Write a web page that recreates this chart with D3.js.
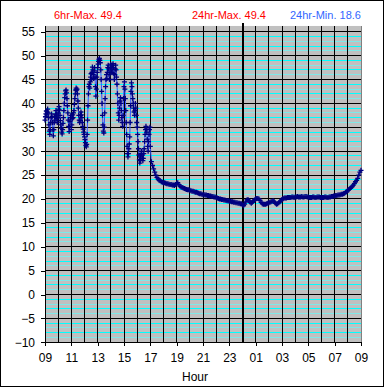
<!DOCTYPE html>
<html><head><meta charset="utf-8">
<script src="https://cdn.jsdelivr.net/npm/d3@7"></script>
<style>body{margin:0;background:#fff}svg{display:block}</style>
</head><body>
<script>
// Readings every 2 minutes from 09:00 to 16:58 (one row per hour)
const noisyTemps = [
36.5,37.2,37.8,38.4,37.6,38.2,38.8,38.0,37.0,35.5,34.2,33.5,34.5,36.0,37.0,37.8,37.2,36.0,34.5,33.2,34.5,36.0,37.2,36.5,37.6,38.5,37.8,36.8,36.0,37.0,
38.0,38.8,39.3,38.6,37.5,36.4,35.5,34.8,34.0,33.6,34.5,35.8,37.0,38.5,40.0,41.2,42.0,42.6,42.8,42.2,41.0,39.5,38.0,36.5,35.2,34.1,35.0,36.2,37.0,37.5,
34.5,35.5,36.8,37.6,37.0,38.0,38.5,39.8,41.0,42.0,42.8,43.2,42.8,43.0,42.0,40.5,39.0,37.5,36.5,36.0,36.4,37.5,38.2,37.6,37.0,36.0,35.2,34.6,34.0,33.5,
33.0,32.4,31.8,31.2,30.9,31.4,33.5,36.5,39.5,42.0,43.5,44.0,43.2,44.5,45.5,46.2,45.0,46.5,47.6,47.0,46.0,45.2,46.8,47.5,45.5,43.5,41.5,43.0,45.5,46.5,
47.5,48.2,48.8,49.2,49.4,49.0,48.5,47.0,45.0,42.5,40.0,37.5,35.5,34.2,33.8,35.0,38.0,41.0,43.5,45.0,46.0,45.2,46.5,47.5,48.0,47.2,46.0,45.0,46.5,47.5,
48.2,47.6,46.5,47.0,48.0,48.3,47.5,46.2,45.0,46.0,47.2,48.0,47.0,45.5,44.0,42.0,40.0,38.0,36.5,37.5,39.0,40.5,41.2,40.0,38.5,37.0,36.0,35.2,37.5,41.0,
43.5,44.5,43.0,41.0,38.5,36.0,33.5,31.0,29.5,28.8,29.5,30.5,31.5,33.0,36.0,39.5,42.5,44.3,43.5,42.0,41.0,40.0,39.0,38.2,37.5,38.5,40.0,39.0,37.5,36.0,
35.0,33.5,32.0,30.5,29.2,28.2,27.5,28.0,28.8,29.5,30.0,29.2,28.5,28.0,28.5,29.5,30.5,32.0,33.5,34.5,35.2,34.8,34.0,32.5,31.0,30.0,32.0,33.5,34.5,35.0
];
const noisyStep = 2;
// Readings every 5 minutes from 17:00 to 09:00 (one row per hour)
const smoothTemps = [
31.0,27.8,27.0,26.3,25.6,25.0,24.5,24.2,23.9,23.8,23.6,23.5,
23.4,23.4,23.3,23.2,23.2,23.1,23.0,23.0,22.9,22.9,22.8,23.0,
23.3,23.4,23.0,22.7,22.5,22.4,22.3,22.2,22.1,22.0,21.9,21.9,
21.8,21.7,21.6,21.6,21.5,21.4,21.4,21.3,21.2,21.1,21.1,21.0,
20.9,20.9,20.8,20.8,20.7,20.7,20.6,20.6,20.5,20.5,20.4,20.4,
20.3,20.2,20.1,20.0,20.0,19.9,19.9,19.8,19.8,19.7,19.6,19.6,
19.5,19.5,19.4,19.4,19.3,19.3,19.2,19.2,19.1,19.1,19.0,19.0,
18.8,18.6,18.9,19.4,19.8,19.9,19.6,19.3,19.1,19.3,19.6,19.8,
20.0,20.1,20.1,20.0,19.7,19.3,19.0,18.9,18.9,18.9,19.0,19.1,
19.2,19.3,19.4,19.5,19.6,19.4,19.1,18.9,19.0,19.2,19.4,19.6,
19.9,20.1,20.2,20.2,20.2,20.3,20.3,20.3,20.3,20.4,20.4,20.3,
20.4,20.4,20.5,20.4,20.4,20.4,20.5,20.4,20.4,20.5,20.5,20.4,
20.4,20.3,20.3,20.3,20.4,20.4,20.3,20.3,20.4,20.4,20.4,20.3,
20.3,20.3,20.3,20.4,20.4,20.3,20.3,20.4,20.4,20.5,20.5,20.6,
20.6,20.7,20.7,20.8,20.8,20.9,21.0,21.0,21.1,21.2,21.4,21.5,
21.8,22.0,22.2,22.4,22.6,22.9,23.2,23.6,23.9,24.3,25.0,25.6,
26.0
];
const smoothStart = 480, smoothStep = 5;
const xTickLabels = ["09","11","13","15","17","19","21","23","01","03","05","07","09"];
const yTickValues = [55,50,45,40,35,30,25,20,15,10,5,0,-5,-10];
const headerTexts = ["6hr-Max. 49.4","24hr-Max. 49.4","24hr-Min. 18.6"];
const xTitle = "Hour";

const W = 385, H = 388;
const svg = d3.select("body").append("svg").attr("width", W).attr("height", H);
const font = "'Liberation Sans', Arial, sans-serif";

const x = d3.scaleLinear().domain([0, 1440]).range([45, 361]);
const y = d3.scaleLinear().domain([-10, 55]).range([342.3, 31.7]);
const topVal = 56.2;

svg.append("rect").attr("x", 0.5).attr("y", 0.5).attr("width", 383).attr("height", 386)
  .attr("fill", "#fff").attr("stroke", "#000");

svg.append("rect").attr("x", x(0)).attr("y", y(topVal)).attr("width", x(1440) - x(0))
  .attr("height", y(-10) - y(topVal)).attr("fill", "#c0c0c0");

const grid = svg.append("g").attr("shape-rendering", "crispEdges");
const minor = d3.range(-9, 56).filter(v => v % 5 !== 0);
grid.selectAll("line.minor").data(minor).join("line")
  .attr("x1", x(0)).attr("x2", x(1440))
  .attr("y1", d => y(d)).attr("y2", d => y(d))
  .attr("stroke", d => (((d % 5) + 5) % 5) % 2 === 0 ? "#00ffff" : "#80e8e8")
  .attr("stroke-width", 1);
grid.selectAll("line.major").data(yTickValues).join("line")
  .attr("x1", x(0)).attr("x2", x(1440))
  .attr("y1", d => y(d)).attr("y2", d => y(d))
  .attr("stroke", "#000");
const hours = d3.range(1, 24);
grid.selectAll("line.hour").data(hours).join("line")
  .attr("x1", d => x(d * 60)).attr("x2", d => x(d * 60))
  .attr("y1", d => d === 15 ? 23 : y(topVal)).attr("y2", y(-10))
  .attr("stroke", "#000").attr("stroke-width", d => d === 15 ? 2 : 1);
grid.append("line").attr("x1", x(1440)).attr("x2", x(1440)).attr("y1", y(topVal)).attr("y2", y(-10))
  .attr("stroke", "#808080");

const yAxis = d3.axisLeft(y).tickValues(yTickValues).tickSize(4).tickPadding(6);
const gy = svg.append("g").attr("transform", `translate(${x(0)},0)`).call(yAxis);
gy.select(".domain").remove();
gy.selectAll("text").attr("font-family", font).attr("font-size", 12).attr("fill", "#000");
gy.selectAll("line").attr("stroke", "#000").attr("shape-rendering", "crispEdges");

const xAxis = d3.axisBottom(x).tickValues(d3.range(0, 1441, 120))
  .tickFormat((d, i) => xTickLabels[i]).tickSize(4).tickPadding(7);
const gx = svg.append("g").attr("transform", `translate(0,${y(-10)})`).call(xAxis);
gx.select(".domain").remove();
gx.selectAll("text").attr("font-family", font).attr("font-size", 12).attr("fill", "#000");
gx.selectAll("line").attr("stroke", "#000").attr("shape-rendering", "crispEdges");

svg.append("line").attr("x1", x(0)).attr("x2", x(0)).attr("y1", y(topVal)).attr("y2", y(-10))
  .attr("stroke", "#000").attr("shape-rendering", "crispEdges");
svg.append("line").attr("x1", x(0)).attr("x2", x(1440)).attr("y1", y(-10)).attr("y2", y(-10))
  .attr("stroke", "#000").attr("shape-rendering", "crispEdges");

const pts = noisyTemps.map((v, i) => ({t: i * noisyStep, v}))
  .concat(smoothTemps.map((v, i) => ({t: smoothStart + i * smoothStep, v})));
svg.append("path").datum(pts)
  .attr("d", d3.line().x(d => x(d.t)).y(d => y(d.v)))
  .attr("fill", "none").attr("stroke", "#3355ff").attr("stroke-width", 1);
svg.append("g").selectAll("path").data(pts).join("path")
  .attr("transform", d => `translate(${x(d.t)},${y(d.v)})`)
  .attr("d", "M-2.5,0H2.5M0,-2.5V2.5")
  .attr("stroke", "#000080").attr("stroke-width", 1.3).attr("fill", "none");

const hdr = [{x: 54, c: "#ff0000"}, {x: 192, c: "#ff0000"}, {x: 290, c: "#3366ff"}];
svg.selectAll("text.hdr").data(headerTexts).join("text")
  .attr("x", (d, i) => hdr[i].x).attr("y", 19)
  .attr("font-family", font).attr("font-size", 11)
  .attr("fill", (d, i) => hdr[i].c).text(d => d);

svg.append("text").attr("x", 195).attr("y", 381).attr("text-anchor", "middle")
  .attr("font-family", font).attr("font-size", 12).attr("fill", "#000").text(xTitle);
</script>
</body></html>
